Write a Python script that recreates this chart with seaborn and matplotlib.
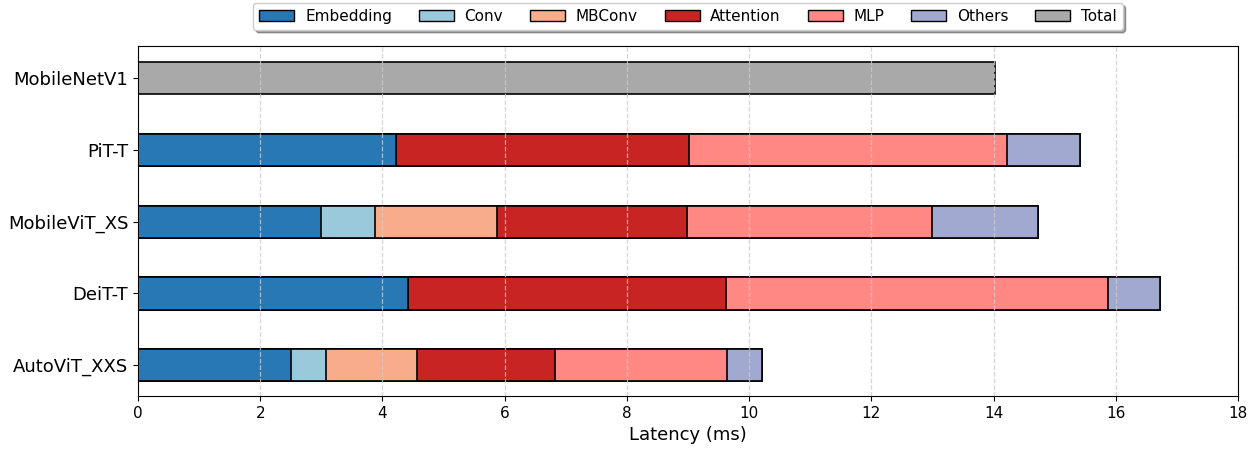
import matplotlib
matplotlib.use("Agg")
import matplotlib.pyplot as plt
import matplotlib.patches as mpatches
import numpy as np
import pandas as pd
import seaborn as sns

sns.set_style("ticks")
plt.rcParams['font.family'] = ['DejaVu Sans']
plt.rcParams.update({"text.color": "black", "axes.labelcolor": "black",
                     "xtick.color": "black", "ytick.color": "black"})

models = ["MobileNetV1", "PiT-T", "MobileViT_XS", "DeiT-T", "AutoViT_XXS"]
components = ["Embedding", "Conv", "MBConv", "Attention", "MLP", "Others", "Total"]

embedding = [0, 4.22, 3.00, 4.41, 2.50]
conv = [0, 0, 0.88, 0, 0.57]
mbconv = [0, 0, 2.00, 0, 1.49]
attention = [0, 4.80, 3.10, 5.21, 2.27]
mlp = [0, 5.20, 4.01, 6.26, 2.80]
others = [0, 1.20, 1.73, 0.84, 0.58]
total = [14.02, 0, 0, 0, 0]

colors = ["#2878B5", "#9AC9DB", "#F8AC8C", "#C82423", "#FF8884", "#A1A9D0", "#A9A9A9"]

df = pd.DataFrame({
    "Embedding": embedding, "Conv": conv, "MBConv": mbconv,
    "Attention": attention, "MLP": mlp, "Others": others, "Total": total,
}, index=models)
cum = df[components].cumsum(axis=1)

fig = plt.figure(figsize=(12.58, 4.5), dpi=100)
ax = fig.add_axes([0.1097, 0.12, 0.8744, 0.778])

# stacked bars: draw cumulative sums from the outermost layer inwards
for comp, col in reversed(list(zip(components, colors))):
    sns.barplot(x=cum[comp].values, y=models, color=col, edgecolor="black",
                linewidth=1.2, width=0.45, orient="h", ax=ax, saturation=1)

ax.set_xlim(0, 18)
ax.set_ylim(4.43, -0.45)
ax.set_xticks(range(0, 19, 2))
ax.set_xlabel("Latency (ms)", fontsize=13)
ax.set_ylabel("")
ax.tick_params(axis="y", labelsize=13)
ax.tick_params(axis="x", labelsize=11)
ax.grid(axis="x", linestyle="--", color="#cccccc", linewidth=0.9, alpha=0.8)
ax.set_axisbelow(False)
for s in ax.spines.values():
    s.set_visible(True)
    s.set_color("black")
    s.set_zorder(5)

handles = [mpatches.Patch(facecolor=c, edgecolor="black", label=n)
           for n, c in zip(components, colors)]
ax.legend(handles=handles, loc="upper center", bbox_to_anchor=(0.5, 1.145),
          ncol=7, fontsize=11, frameon=True, shadow=True, fancybox=True,
          handlelength=2.3, columnspacing=1.75, handletextpad=0.7)

fig.savefig("out.png", dpi=100)
